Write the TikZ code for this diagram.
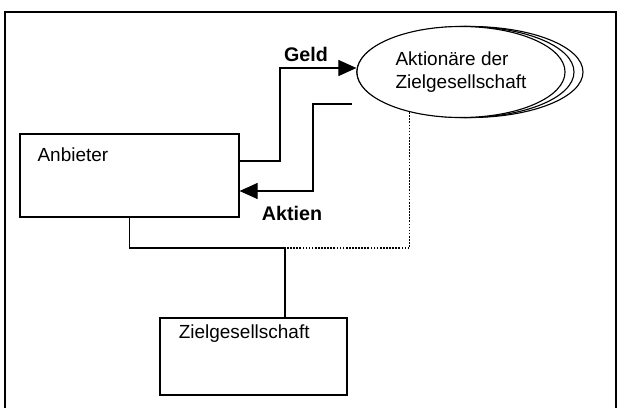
\documentclass[tikz,border=0pt]{standalone}
\usepackage{fontspec}
\setmainfont{Liberation Sans}
\usetikzlibrary{arrows.meta,shapes.geometric}

\begin{document}
\begin{tikzpicture}[x=0.025cm, y=-0.025cm,
    box/.style={rectangle, draw, thick, fill=white},
    grp/.style={ellipse, draw, thick, fill=white, minimum width=5.2cm, minimum height=2.275cm, inner sep=0pt, align=left, font=\fontsize{13.5}{16}\selectfont},
    txt/.style={font=\fontsize{13.5}{16}\selectfont},
    flow/.style={thick, -{Triangle[length=0.45cm, width=0.4cm]}},
    lbl/.style={font=\fontsize{14}{16}\selectfont\bfseries}]

    \useasboundingbox (0,0) rectangle (619,408);

    % frame
    \draw[thick] (5,408) -- (5,12) -- (616,12) -- (616,408);

    \node[box, minimum width=5.475cm, minimum height=2.075cm,
          label={[txt, anchor=north west, xshift=0.33cm, yshift=-0.24cm]north west:Anbieter}] (anb) at (129.5,175.5) {};
    \node[box, minimum width=4.675cm, minimum height=1.925cm,
          label={[txt, anchor=north west, xshift=0.36cm, yshift=-0.07cm]north west:Zielgesellschaft}] (ziel) at (253.5,356.5) {};

    % stacked shareholders
    \draw[thick] (470,72) ellipse [x radius=113, y radius=45.5];
    \draw[thick] (465.5,72) ellipse [x radius=108.5, y radius=45.5];
    \node[grp] (akt) at (461,72) {Aktionäre der\\Zielgesellschaft};

    \coordinate (aktsrc) at (352,104);
    \coordinate (j1) at (285,248);

    \draw[flow] (anb.east |- 0,161) -| (280,68) -- (akt.west |- 0,68);
    \draw[flow] (aktsrc) -| (313,191) -- (anb.east |- 0,191);

    \node[lbl] (geld) at (306,54) {Geld};
    \node[lbl] (aktien) at (292,213) {Aktien};

    \draw[thick] (anb.south) |- (j1) -- (j1 |- ziel.north);
    \draw[thick, dash pattern=on 1.2pt off 1pt] (akt.218) |- (j1);
\end{tikzpicture}
\end{document}
